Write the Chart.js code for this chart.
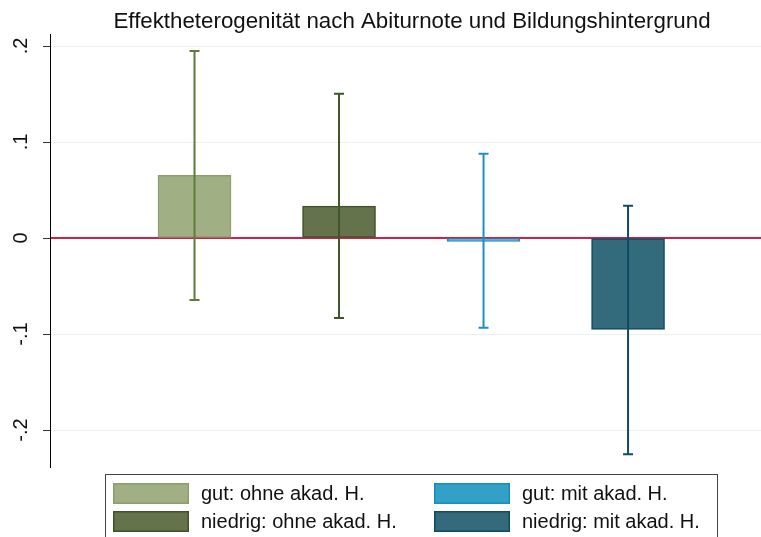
<!DOCTYPE html>
<html>
<head>
<meta charset="utf-8">
<script src="https://cdn.jsdelivr.net/npm/chart.js@4/dist/chart.umd.min.js"></script>
<style>
  html, body { margin: 0; padding: 0; background: #fff; }
  #wrap { width: 761px; height: 537px; position: relative; }
</style>
</head>
<body>
<div id="wrap"><canvas id="c"></canvas></div>
<script>
const chartTitle = 'Effektheterogenität nach Abiturnote und Bildungshintergrund';
const categories = ['gut: ohne akad. H.', 'niedrig: ohne akad. H.', 'gut: mit akad. H.', 'niedrig: mit akad. H.'];
const positions = [1, 2, 3, 4];
const estimates = [0.0653, 0.0332, -0.0035, -0.0951];
const ciLower = [-0.0646, -0.0833, -0.0934, -0.2253];
const ciUpper = [0.1948, 0.1503, 0.0878, 0.0337];
const yTicks = [-0.2, -0.1, 0, 0.1, 0.2];
const yTickLabels = ['-.2', '-.1', '0', '.1', '.2'];

const fillColors = ['#a1af85', '#65734c', '#33a0c8', '#336b7d'];
const borderColors = ['#8d9e6c', '#3f5228', '#1a8cc0', '#0f4a60'];
const whiskerColors = ['#5b7d38', '#3f5628', '#1e90c0', '#0f4c63'];

const FONT = '"Liberation Sans", Arial, Helvetica, sans-serif';

const datasets = categories.map((name, i) => ({
  label: name,
  data: [{ x: positions[i], y: estimates[i] }],
  backgroundColor: fillColors[i],
  borderColor: borderColors[i],
  borderWidth: 1.5,
  borderSkipped: false,
  barThickness: 73,
  grouped: false
}));

const overlay = {
  id: 'overlay',
  beforeDatasetsDraw(chart) {
    const ctx = chart.ctx;
    const ys = chart.scales.y;
    const ca = chart.chartArea;
    ctx.save();
    ctx.strokeStyle = '#d21f47';
    ctx.lineWidth = 2;
    const y0 = ys.getPixelForValue(0);
    ctx.beginPath();
    ctx.moveTo(ca.left + 1, y0);
    ctx.lineTo(ca.right, y0);
    ctx.stroke();
    ctx.restore();
  },
  afterDatasetsDraw(chart) {
    const ctx = chart.ctx;
    const xs = chart.scales.x, ys = chart.scales.y;
    ctx.save();
    ctx.lineWidth = 2;
    for (let i = 0; i < categories.length; i++) {
      const x = xs.getPixelForValue(positions[i]);
      const yl = ys.getPixelForValue(ciLower[i]);
      const yu = ys.getPixelForValue(ciUpper[i]);
      ctx.strokeStyle = whiskerColors[i];
      ctx.beginPath();
      ctx.moveTo(x, yu); ctx.lineTo(x, yl);
      ctx.moveTo(x - 5, yu); ctx.lineTo(x + 5, yu);
      ctx.moveTo(x - 5, yl); ctx.lineTo(x + 5, yl);
      ctx.stroke();
    }
    ctx.restore();
  },
  afterDraw(chart) {
    const ctx = chart.ctx;
    const ys = chart.scales.y;
    ctx.save();
    // title
    ctx.fillStyle = '#111';
    ctx.font = '22.3px ' + FONT;
    ctx.textAlign = 'center';
    ctx.textBaseline = 'alphabetic';
    ctx.fillText(chartTitle, 412, 28);
    // y tick labels (rotated)
    ctx.font = '20px ' + FONT;
    for (let i = 0; i < yTicks.length; i++) {
      const y = ys.getPixelForValue(yTicks[i]);
      ctx.save();
      ctx.translate(27, y);
      ctx.rotate(-Math.PI / 2);
      ctx.textAlign = 'center';
      ctx.textBaseline = 'alphabetic';
      ctx.fillText(yTickLabels[i], 0, 0);
      ctx.restore();
    }
    // legend box
    ctx.strokeStyle = '#444';
    ctx.lineWidth = 1;
    ctx.strokeRect(105.5, 474.5, 612, 80);
    const colX = [113, 434];
    const rowY = [483, 511];
    ctx.font = '20px ' + FONT;
    ctx.textAlign = 'left';
    ctx.textBaseline = 'middle';
    for (let i = 0; i < categories.length; i++) {
      const c = Math.floor(i / 2), r = i % 2;
      const sx = colX[c], sy = rowY[r];
      ctx.fillStyle = fillColors[i];
      ctx.fillRect(sx, sy, 76, 21);
      ctx.strokeStyle = borderColors[i];
      ctx.lineWidth = 1.5;
      ctx.strokeRect(sx + 0.75, sy + 0.75, 74.5, 19.5);
      ctx.fillStyle = '#111';
      ctx.fillText(categories[i], sx + 88, sy + 11);
    }
    ctx.restore();
  }
};

new Chart(document.getElementById('c'), {
  type: 'bar',
  data: { datasets },
  options: {
    responsive: true,
    maintainAspectRatio: false,
    animation: false,
    layout: { padding: { top: 34, bottom: 70, left: 0, right: 0 } },
    plugins: {
      legend: { display: false },
      title: { display: false },
      tooltip: { enabled: false }
    },
    scales: {
      x: {
        type: 'linear',
        display: false,
        offset: false,
        min: 0,
        max: 4.92
      },
      y: {
        type: 'linear',
        min: -0.2385,
        max: 0.2125,
        afterBuildTicks(scale) { scale.ticks = yTicks.map(v => ({ value: v })); },
        afterFit(scale) { scale.width = 50; },
        ticks: { display: false },
        border: { display: true, color: '#000', width: 1 },
        grid: {
          color: ctx => (ctx.tick && ctx.tick.value === 0) ? 'rgba(0,0,0,0)' : '#e8f0f2',
          lineWidth: 1,
          drawTicks: true,
          tickLength: 7,
          tickColor: '#333'
        }
      }
    }
  },
  plugins: [overlay]
});
</script>
</body>
</html>
